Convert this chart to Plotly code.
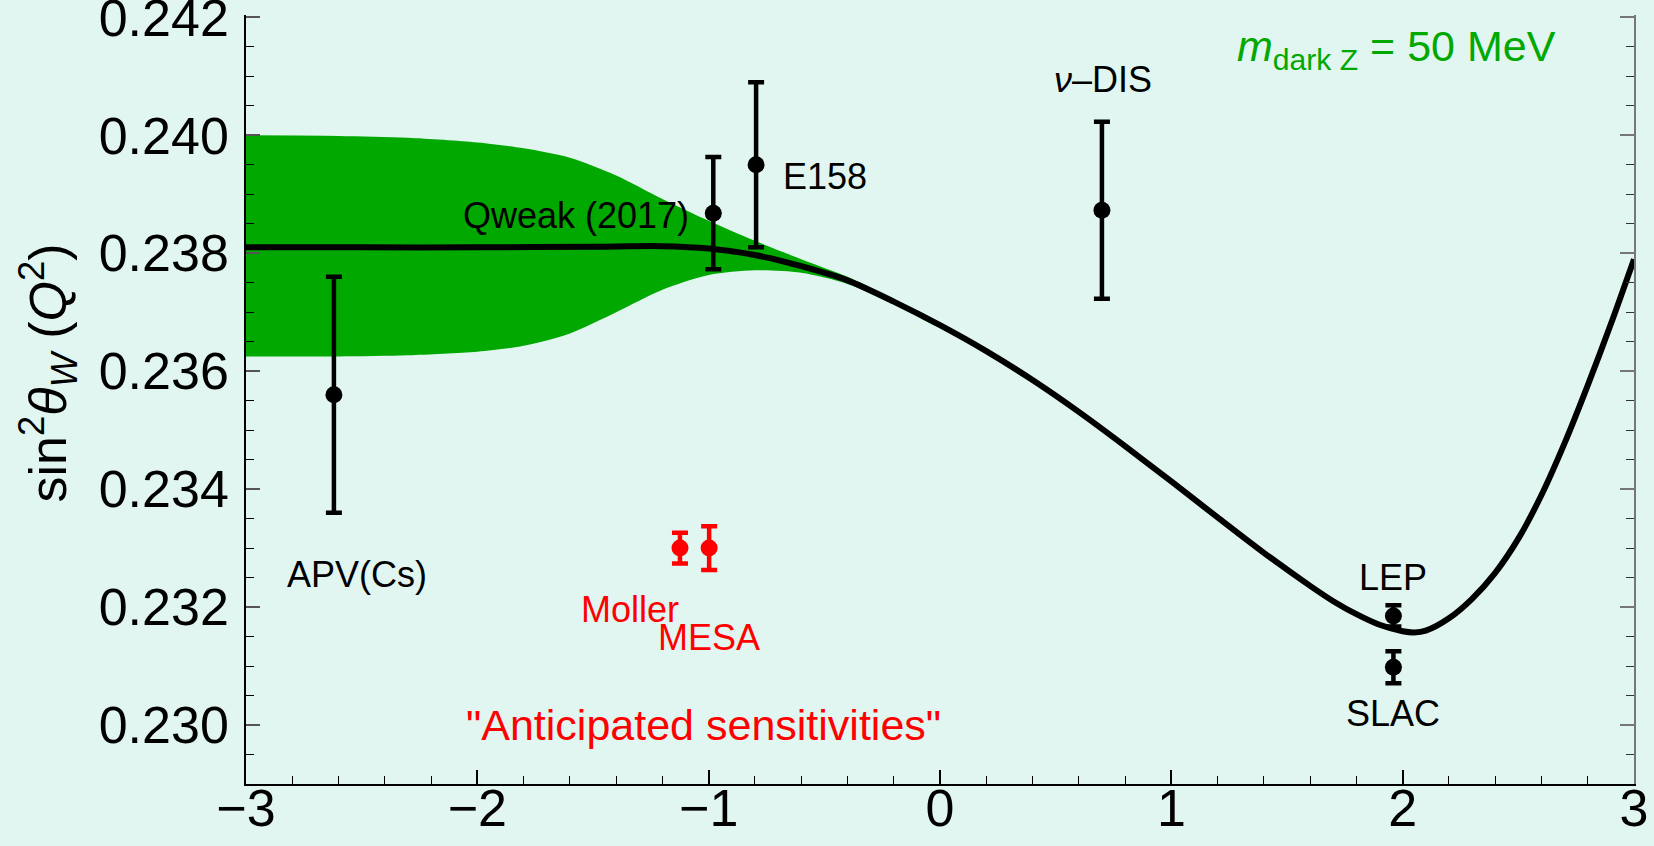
import plotly.graph_objects as go

# ---- data ----
curve_x = [-3.0, -2.5, -2.0, -1.5, -1.2, -1.0, -0.8, -0.6, -0.4, -0.2, 0.0, 0.2, 0.4, 0.6, 0.8,
           1.0, 1.2, 1.4, 1.6, 1.7, 1.8, 1.9, 2.0, 2.05, 2.1, 2.2, 2.3, 2.4, 2.5, 2.6, 2.7, 2.8, 2.9, 3.0]
curve_y = [0.23810, 0.23810, 0.23810, 0.23811, 0.23812, 0.23808, 0.23797, 0.23778, 0.23754, 0.23718,
           0.23678, 0.23634, 0.23585, 0.23531, 0.23473, 0.23413, 0.23352, 0.23292, 0.23236, 0.23210,
           0.23188, 0.23170, 0.23159, 0.23157, 0.23160, 0.23181, 0.23214, 0.23258, 0.23316, 0.23390,
           0.23478, 0.23576, 0.23680, 0.23790]

band_x = [-3.0, -2.6, -2.3, -2.0, -1.8, -1.6, -1.4, -1.2, -1.0, -0.8, -0.6, -0.4, -0.2, 0.0]
band_upper = [0.24000, 0.23999, 0.23996, 0.23988, 0.23978, 0.23962, 0.23932, 0.23892, 0.23855, 0.23821,
              0.23790, 0.23760, 0.23722, 0.23681]
band_lower = [0.23625, 0.23625, 0.23627, 0.23633, 0.23643, 0.23664, 0.23700, 0.23738, 0.23763, 0.23771,
              0.23767, 0.23748, 0.23714, 0.23675]

exp_names = ["APV(Cs)", "Qweak (2017)", "E158", "<i>ν</i>–DIS", "LEP", "SLAC"]
exp_x = [-2.62, -0.98, -0.795, 0.70, 1.96, 1.96]
exp_y = [0.23560, 0.23868, 0.23950, 0.23873, 0.23185, 0.23098]
exp_err = [0.00200, 0.00095, 0.00140, 0.00150, 0.00018, 0.00027]
exp_label_x = [-2.522, -1.575, -0.497, 0.705, 1.959, 1.959]
exp_label_y = [0.23255, 0.23864, 0.23930, 0.24094, 0.23251, 0.23019]

future_names = ["Moller", "MESA"]
future_x = [-1.124, -0.998]
future_y = [0.23300, 0.23300]
future_err = [0.00026, 0.00037]
future_label_x = [-1.340, -0.998]
future_label_y = [0.23196, 0.23149]

note_text = '"Anticipated sensitivities"'
note_x, note_y = -1.024, 0.23000
mass_text = "<i>m</i><sub>dark Z</sub> = 50 MeV"
mass_x, mass_y = 1.975, 0.24147

y_title = "sin<sup>2</sup><i>θ</i><sub><i>W</i></sub> (<i>Q</i><sup>2</sup>)"

x_range = [-3, 3]
y_range = [0.229, 0.24204]

# ---- style ----
FONT = "Liberation Sans, Arial, sans-serif"
BG = "#E1F6F1"
GREEN = "#00A800"
RED = "#FF0000"

fig = go.Figure()

fig.add_trace(go.Scatter(
    x=band_x + band_x[::-1], y=band_upper + band_lower[::-1],
    fill="toself", fillcolor=GREEN, line=dict(width=0, shape="spline", smoothing=0.8),
    mode="lines", hoverinfo="skip", showlegend=False))

fig.add_trace(go.Scatter(
    x=curve_x, y=curve_y, mode="lines", line=dict(color="black", width=6, shape="spline", smoothing=0.8),
    showlegend=False))

fig.add_trace(go.Scatter(
    x=exp_x, y=exp_y, mode="markers",
    marker=dict(color="black", size=17),
    error_y=dict(type="data", array=exp_err, color="black", thickness=4.5, width=8),
    showlegend=False))

fig.add_trace(go.Scatter(
    x=future_x, y=future_y, mode="markers",
    marker=dict(color=RED, size=17),
    error_y=dict(type="data", array=future_err, color=RED, thickness=4.5, width=8),
    showlegend=False))

# dummy trace so the right-hand mirror axis is drawn
fig.add_trace(go.Scatter(x=[None], y=[None], yaxis="y2", showlegend=False, hoverinfo="skip"))

for name, lx, ly in zip(exp_names, exp_label_x, exp_label_y):
    fig.add_annotation(x=lx, y=ly, text=name, showarrow=False,
                       font=dict(family=FONT, size=36, color="black"),
                       xanchor="center", yanchor="middle")

for name, lx, ly in zip(future_names, future_label_x, future_label_y):
    fig.add_annotation(x=lx, y=ly, text=name, showarrow=False,
                       font=dict(family=FONT, size=36, color=RED),
                       xanchor="center", yanchor="middle")

fig.add_annotation(x=note_x, y=note_y, text=note_text, showarrow=False,
                   font=dict(family=FONT, size=43, color=RED),
                   xanchor="center", yanchor="middle")
fig.add_annotation(x=mass_x, y=mass_y, text=mass_text, showarrow=False,
                   font=dict(family=FONT, size=43, color=GREEN),
                   xanchor="center", yanchor="middle")

# y-axis title as rotated text
fig.add_annotation(xref="paper", yref="paper", x=-0.1427, y=0.535, text=y_title,
                   textangle=-90, showarrow=False,
                   font=dict(family=FONT, size=52, color="black"),
                   xanchor="center", yanchor="middle")

fig.update_layout(
    width=1654, height=846,
    paper_bgcolor=BG, plot_bgcolor=BG,
    margin=dict(l=246, r=20, t=15, b=62),
    font=dict(family=FONT, color="black"),
    xaxis=dict(
        range=x_range, showgrid=False, zeroline=False, automargin=False,
        showline=True, linecolor="black", linewidth=1.5,
        ticks="inside", ticklen=14, tickwidth=1.5, tickcolor="black",
        tick0=-3, dtick=1, tickfont=dict(size=52, family=FONT),
        minor=dict(dtick=0.2, ticks="inside", ticklen=8, tickwidth=1.2, tickcolor="black"),
        ticklabelstandoff=-22, ticklabeloverflow="allow",
    ),
    yaxis=dict(
        range=y_range, showgrid=False, zeroline=False, automargin=False,
        showline=True, linecolor="black", linewidth=1.5,
        ticks="inside", ticklen=14, tickwidth=1.5, tickcolor="#555555",
        tick0=0.230, dtick=0.002, tickformat=".3f", tickfont=dict(size=52, family=FONT),
        minor=dict(dtick=0.0005, ticks="inside", ticklen=8, tickwidth=1.2, tickcolor="black"),
        ticklabelstandoff=5, ticklabeloverflow="allow",
    ),
    yaxis2=dict(
        range=y_range, overlaying="y", side="right", showgrid=False, zeroline=False,
        automargin=False,
        showline=True, linecolor="#777777", linewidth=1.5,
        ticks="inside", ticklen=14, tickwidth=1.5, tickcolor="#777777",
        tick0=0.230, dtick=0.002, showticklabels=False,
        minor=dict(dtick=0.0005, ticks="inside", ticklen=8, tickwidth=1.2, tickcolor="#333333"),
    ),
)

fig.write_html("out.html", config={"displayModeBar": False},
               post_script="document.body.style.margin='0';document.body.style.overflow='hidden';"
                           "document.body.style.background='" + BG + "';")
